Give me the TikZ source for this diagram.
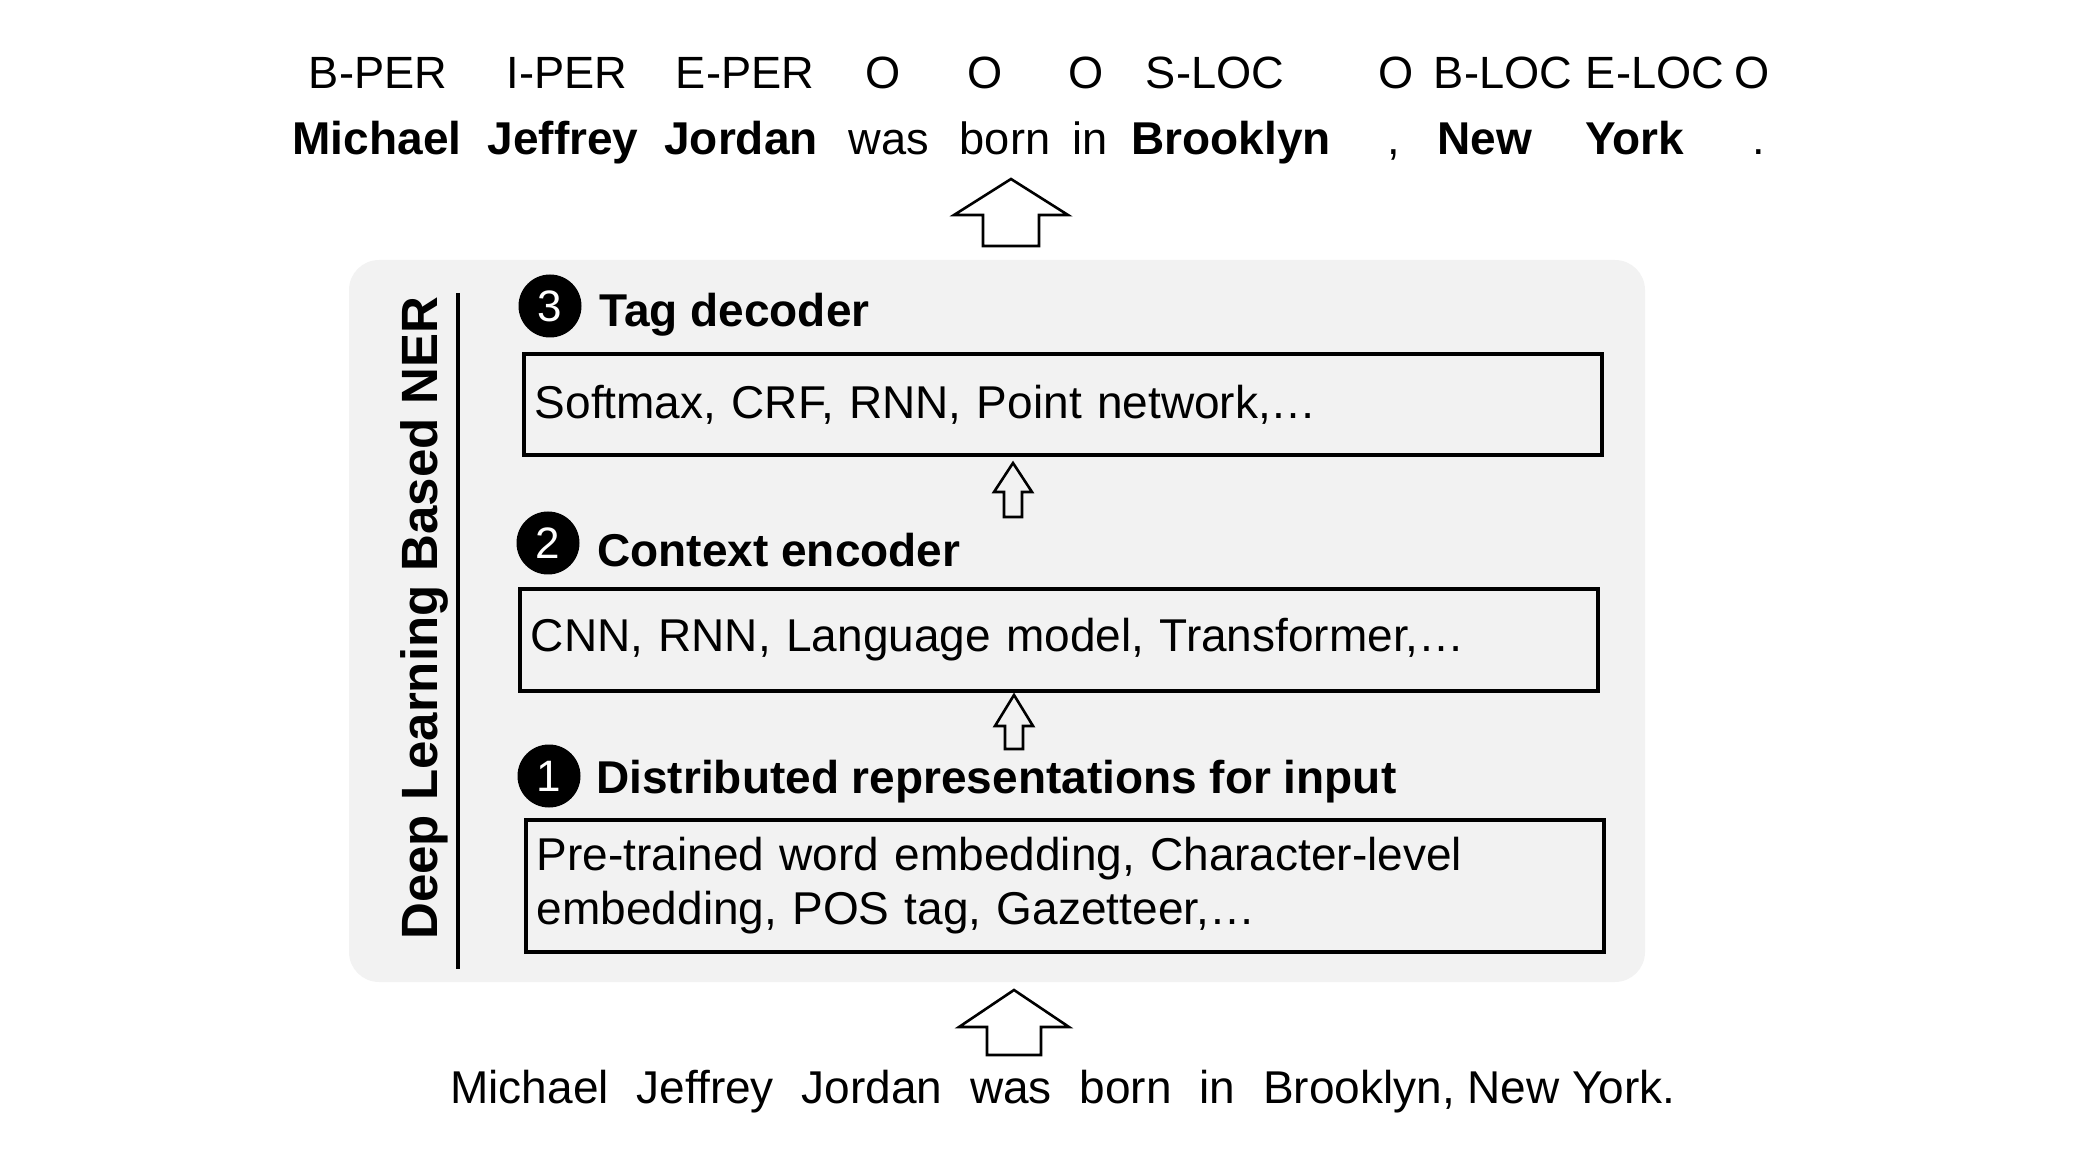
\documentclass[tikz,border=0pt]{standalone}
\usepackage{fontspec}
\setmainfont{Liberation Sans}
\usetikzlibrary{positioning}

\definecolor{panelgray}{HTML}{F2F2F2}
\newcommand{\wgap}{\hspace{13.9pt}}

\tikzset{
  tag/.style={anchor=base, inner sep=0pt, font=\fontsize{22.6}{27}\selectfont},
  word/.style={tag, font=\fontsize{23}{27}\selectfont\bfseries},
  head/.style={anchor=base west, inner sep=0pt, font=\fontsize{23}{27}\selectfont\bfseries},
  badge/.style={circle, fill=black, text=white, minimum size=31.5pt, inner sep=0pt, font=\fontsize{22}{22}\selectfont},
  panel/.style={draw, line width=1.8pt, anchor=north west, text width=528pt, inner xsep=5.5pt, align=left, font=\fontsize{23}{27}\selectfont},
  blockarrow/.style={draw, line width=1.3pt, line join=miter}
}

\begin{document}
\begin{tikzpicture}[x=0.5pt, y=-0.5pt]
    \useasboundingbox (0,0) rectangle (2090,1171);

    % tags
    \node[tag] (t1) at (378,89) {B-PER};
    \node[tag] (t2) at (567,89) {I-PER};
    \node[tag] (t3) at (745,89) {E-PER};
    \node[tag] (t4) at (883,89) {O};
    \node[tag] (t5) at (985,89) {O};
    \node[tag] (t6) at (1086,89) {O};
    \node[tag] (t7) at (1215,89) {S-LOC};
    \node[tag] (t8) at (1396,89) {O};
    \node[tag] (t9) at (1503,89) {B-LOC};
    \node[tag] (t10) at (1655,89) {E-LOC};
    \node[tag] (t11) at (1752,89) {O};

    % words
    \node[word] (w1) at (377,155) {Michael};
    \node[word] (w2) at (563,155) {Jeffrey};
    \node[word] (w3) at (741,155) {Jordan};
    \node[tag] (w4) at (889,155) {was};
    \node[tag] (w5) at (1005,155) {born};
    \node[tag] (w6) at (1090,155) {in};
    \node[word] (w7) at (1231,155) {Brooklyn};
    \node[tag] (w8) at (1394,155) {,};
    \node[word] (w9) at (1485,155) {New};
    \node[word] (w10) at (1635,155) {York};
    \node[tag] (w11) at (1759,155) {.};

    \coordinate (up1) at (1011,179);
    \draw[blockarrow] (up1) -- ++(57,36) -- ++(-29,0) -- ++(0,31) -- ++(-56,0) -- ++(0,-31) -- ++(-29,0) -- cycle;

    % model
    \fill[panelgray, rounded corners=15pt] (349,260) rectangle (1645,982);
    \draw[line width=2.2pt] (458,293) -- (458,969);
    \node[rotate=90, anchor=base, inner sep=0pt, font=\fontsize{25.5}{30}\selectfont\bfseries] (ner) at (437,618) {Deep Learning Based NER};

    \node[badge] (n3) at (550,306) {3};
    \node[head] (h3) at (599,327) {Tag decoder};
    \node[panel, minimum height=50.5pt] (dec) at (522,352) {Softmax, CRF, RNN, Point network,…};

    \coordinate (up2) at (1013,463);
    \draw[blockarrow] (up2) -- ++(19,29) -- ++(-10,0) -- ++(0,25) -- ++(-18,0) -- ++(0,-25) -- ++(-10,0) -- cycle;

    \node[badge] (n2) at (548,543) {2};
    \node[head] (h2) at (597,567) {Context encoder};
    \node[panel, minimum height=51pt] (enc) at (518,587) {CNN, RNN, Language model, Transformer,…};

    \coordinate (up3) at (1014,695);
    \draw[blockarrow] (up3) -- ++(19,31) -- ++(-10,0) -- ++(0,23) -- ++(-18,0) -- ++(0,-23) -- ++(-10,0) -- cycle;

    \node[badge] (n1) at (549,776) {1};
    \node[head] (h1) at (596,793) {Distributed representations for input};
    \node[panel, minimum height=66pt] (rep) at (524,818) {Pre-trained word embedding, Character-level\\embedding, POS tag, Gazetteer,…};

    \coordinate (up4) at (1014,990);
    \draw[blockarrow] (up4) -- ++(55,37) -- ++(-28,0) -- ++(0,28) -- ++(-54,0) -- ++(0,-28) -- ++(-28,0) -- cycle;

    % input
    \node[tag, anchor=base west, font=\fontsize{23}{27}\selectfont] (src) at (450,1103) {Michael\wgap Jeffrey\wgap Jordan\wgap was\wgap born\wgap in\wgap Brooklyn, New York.};
  \end{tikzpicture}
\end{document}
